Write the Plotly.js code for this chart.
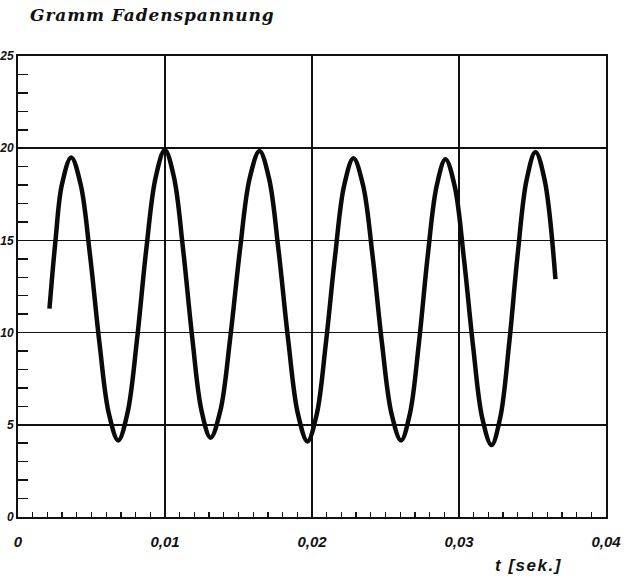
<!DOCTYPE html>
<html>
<head>
<meta charset="utf-8">
<script src="https://cdn.plot.ly/plotly-3.0.1.min.js"></script>
<style>
  html, body { margin:0; padding:0; background:#fff; }
  #chart { width:625px; height:579px; }
  .gtitle { letter-spacing: 0.9px; }
  .annotation-text { letter-spacing: 1.5px; }
</style>
</head>
<body>
<div id="chart"></div>
<script>
// time in seconds
const tSec = [
  0.00214, 0.00255, 0.00298, 0.00362, 0.00426, 0.00490, 0.00554, 0.00618,
  0.00682, 0.00745, 0.00809, 0.00872, 0.00936, 0.00999, 0.01061, 0.01123,
  0.01186, 0.01248, 0.01310, 0.01377, 0.01443, 0.01510, 0.01576, 0.01643,
  0.01708, 0.01773, 0.01839, 0.01904, 0.01969, 0.02032, 0.02094, 0.02157,
  0.02219, 0.02282, 0.02347, 0.02412, 0.02476, 0.02541, 0.02606, 0.02666,
  0.02727, 0.02787, 0.02848, 0.02908, 0.02971, 0.03033, 0.03096, 0.03158,
  0.03221, 0.03281, 0.03341, 0.03400, 0.03460, 0.03520, 0.03582, 0.03656
];
// thread tension in gram
const tensionGram = [
  11.3, 15.0, 18.0, 19.5, 18.04, 14.2, 9.45, 5.61,
  4.15, 5.65, 9.58, 14.47, 18.4, 19.9, 18.42, 14.52,
  9.68, 5.78, 4.3, 5.78, 9.66, 14.49, 18.37, 19.85,
  18.35, 14.42, 9.53, 5.6, 4.1, 5.56, 9.4, 14.15,
  17.99, 19.45, 18.0, 14.17, 9.43, 5.6, 4.15, 5.6,
  9.41, 14.14, 17.95, 19.4, 17.93, 14.05, 9.25, 5.37,
  3.9, 5.41, 9.39, 14.31, 18.29, 19.8, 18.3, 12.9
];
const xTickVals = [0, 0.01, 0.02, 0.03, 0.04];
const xTickText = ['0', '0,01', '0,02', '0,03', '0,04'];
const xHalfTickVals = [0.005, 0.015, 0.025, 0.035];
const yTickVals = [0, 5, 10, 15, 20, 25];
const yTickText = ['0', '5', '10', '15', '20', '25'];

const ink = '#111';
const xTickFont = {family:'Liberation Sans', size:15, weight:'bold', style:'italic', color:ink};
const yTickFont = {family:'Liberation Sans', size:12, weight:'bold', style:'italic', color:ink};

const data = [{
  type:'scatter', mode:'lines', x:tSec, y:tensionGram,
  line:{color:'#0a0a0a', width:4.5, shape:'spline', smoothing:1},
  hoverinfo:'skip'
}];

const layout = {
  width:625, height:579,
  margin:{l:18, r:19, t:56, b:62},
  paper_bgcolor:'#fff', plot_bgcolor:'#fff',
  showlegend:false,
  title:{
    text:'Gramm Fadenspannung',
    font:{family:'DejaVu Serif', size:17, style:'italic', weight:'bold', color:'#111'},
    x:30/625, xanchor:'left', xref:'container',
    y:1-15/579, yanchor:'middle', yref:'container'
  },
  xaxis:{
    range:[0, 0.04], tickvals:xTickVals, ticktext:xTickText,
    ticks:'inside', ticklen:9, tickwidth:1.5, tickcolor:ink,
    showgrid:true, gridcolor:ink, gridwidth:1.5,
    showline:true, linecolor:ink, linewidth:2, mirror:true, zeroline:false,
    minor:{dtick:0.001, tick0:0, ticks:'inside', ticklen:5, tickwidth:1.3, tickcolor:ink, showgrid:false},
    tickfont:xTickFont, ticklabelstandoff:10, fixedrange:true
  },
  xaxis2:{
    overlaying:'x', matches:'x', anchor:'y', side:'bottom',
    range:[0, 0.04], tickvals:xHalfTickVals,
    ticks:'inside', ticklen:9, tickwidth:1.5, tickcolor:ink,
    showticklabels:false, showgrid:false, showline:false, zeroline:false
  },
  yaxis:{
    range:[0, 25], tickvals:yTickVals, ticktext:yTickText,
    ticks:'inside', ticklen:10, tickwidth:1.5, tickcolor:ink,
    showgrid:true, gridcolor:ink, gridwidth:1.5,
    showline:true, linecolor:ink, linewidth:2, mirror:true, zeroline:false,
    minor:{dtick:1, tick0:0, ticks:'inside', ticklen:10, tickwidth:1.5, tickcolor:ink, showgrid:false},
    tickfont:yTickFont, ticklabelstandoff:0, fixedrange:true
  },
  annotations:[{
    text:'t [sek.]', xref:'paper', yref:'paper',
    x:(528-18)/588, y:-48/461, xanchor:'center', yanchor:'middle',
    showarrow:false, font:{family:'Liberation Sans', size:17, weight:'bold', style:'italic', color:ink}
  }]
};

Plotly.newPlot('chart', data, layout, {displayModeBar:false, staticPlot:true});
</script>
</body>
</html>
